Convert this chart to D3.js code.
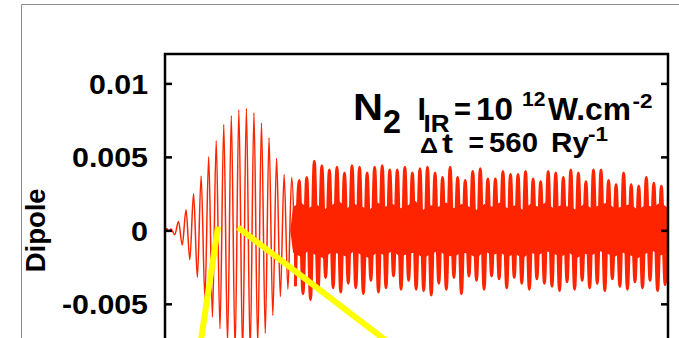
<!DOCTYPE html>
<html>
<head>
<meta charset="utf-8">
<script src="https://cdn.jsdelivr.net/npm/d3@7"></script>
<style>
  html, body { margin: 0; padding: 0; background: #ffffff; }
  svg { display: block; }
  text { font-family: "Liberation Sans", Arial, Helvetica, sans-serif; font-weight: bold; fill: #000; }
</style>
</head>
<body>
<svg id="chart" width="679" height="338"></svg>
<script>
// ---- data -------------------------------------------------------------
// time in Ry^-1, dipole in atomic units
const timeDomain = [0, 2200];
const dipoleDomain = [-0.012, 0.012];
const yTickValues = [-0.005, 0, 0.005, 0.01];
const yTickLabels = ["-0.005", "0", "0.005", "0.01"];

// quiet start of the record
const leadTimes = [0, 8, 16];
const leadValues = [0, 0.00012, -0.00008];

// turning points of the dipole oscillation: first one at t = 26, one every half period
const firstTurnTime = 26;
const halfPeriod = 16.5;

// XUV-driven oscillation before the IR arrives (alternating max / min)
const preValues = [
  0.0001, -0.0003, 0.0006, -0.0010, 0.0014, -0.0020, 0.0025, -0.0032, 0.0037, -0.0046,
  0.0050, -0.0059, 0.0061, -0.0067, 0.0072, -0.0077, 0.0078, -0.0082, 0.0082, -0.0084,
  0.0083, -0.0083, 0.0080, -0.0078, 0.0073, -0.0070, 0.0063, -0.0058, 0.0049, -0.0045,
  0.0038, -0.0040, 0.0036, -0.0038
];

// after the IR pulse: maxima and minima of the spikes
const denseUpper = [
  0.0034, 0.0036, 0.0047, 0.0044, 0.0041, 0.0043, 0.0039, 0.0044, 0.0043, 0.0039,
  0.0043, 0.0044, 0.0041, 0.0041, 0.0043, 0.0039, 0.0042, 0.0043, 0.0039, 0.0036,
  0.0043, 0.0036, 0.0034, 0.0040, 0.0042, 0.0035, 0.0035, 0.0040, 0.0038, 0.0038,
  0.0040, 0.0035, 0.0033, 0.0040, 0.0039, 0.0036, 0.0041, 0.0039, 0.0033, 0.0041,
  0.0041, 0.0034, 0.0031, 0.0039, 0.0031, 0.0030, 0.0036, 0.0032, 0.0030, 0.0036
];
const denseLower = [
  -0.0043, -0.0047, -0.0041, -0.0032, -0.0039, -0.0042, -0.0036, -0.0039, -0.0043, -0.0034,
  -0.0042, -0.0039, -0.0031, -0.0040, -0.0034, -0.0040, -0.0041, -0.0044, -0.0036, -0.0040,
  -0.0032, -0.0043, -0.0031, -0.0034, -0.0040, -0.0031, -0.0033, -0.0039, -0.0032, -0.0036,
  -0.0040, -0.0033, -0.0036, -0.0038, -0.0041, -0.0035, -0.0040, -0.0034, -0.0039, -0.0036,
  -0.0041, -0.0033, -0.0038, -0.0040, -0.0035, -0.0039, -0.0034, -0.0041, -0.0037
];

// fast component after the IR pulse: ragged envelope of the solid core
const coreStart = 560;
const coreStep = 33.5;
const coreUpper = [
  0.0016, 0.0019, 0.0015, 0.0018, 0.0014, 0.0017, 0.0020, 0.0015, 0.0018, 0.0016,
  0.0014, 0.0019, 0.0016, 0.0018, 0.0015, 0.0017, 0.0020, 0.0014, 0.0017, 0.0016,
  0.0019, 0.0015, 0.0018, 0.0016, 0.0014, 0.0018, 0.0016, 0.0019, 0.0015, 0.0017,
  0.0014, 0.0018, 0.0016, 0.0019, 0.0015, 0.0017, 0.0016, 0.0014, 0.0018, 0.0015,
  0.0017, 0.0019, 0.0015, 0.0016, 0.0018, 0.0014, 0.0017, 0.0016, 0.0019, 0.0015
];
const coreLower = [
  -0.0015, -0.0018, -0.0014, -0.0017, -0.0019, -0.0015, -0.0016, -0.0018, -0.0014, -0.0017,
  -0.0019, -0.0015, -0.0017, -0.0014, -0.0018, -0.0016, -0.0015, -0.0019, -0.0016, -0.0014,
  -0.0017, -0.0018, -0.0015, -0.0016, -0.0019, -0.0014, -0.0017, -0.0015, -0.0018, -0.0016,
  -0.0019, -0.0015, -0.0017, -0.0014, -0.0016, -0.0018, -0.0015, -0.0019, -0.0016, -0.0017,
  -0.0014, -0.0016, -0.0018, -0.0015, -0.0017, -0.0019, -0.0016, -0.0014, -0.0017, -0.0016
];

// guide lines towards the enlarged view (time, dipole)
const guideA = [[232, 0.00025], [105, -0.0129]];
const guideB = [[319, 0.0002], [1421, -0.0129]];

// ---- build the series ---------------------------------------------------
const lead = leadTimes.map((t, i) => ({ t, v: leadValues[i] }));
const preTrace = lead.concat(preValues.map((v, k) => ({ t: firstTurnTime + k * halfPeriod, v })));

const denseValues = [];
for (let i = 0; i < denseUpper.length; i++) {
  denseValues.push(denseUpper[i]);
  if (i < denseLower.length) denseValues.push(denseLower[i]);
}
const denseFirst = firstTurnTime + (preValues.length - 1) * halfPeriod;
const denseTrace = [preTrace[preTrace.length - 1]].concat(
  denseValues.map((v, k) => ({ t: denseFirst + (k + 1) * halfPeriod, v })));

const core = [{ t: coreStart - 12, hi: 0, lo: 0 }].concat(
  coreUpper.map((hi, i) => ({ t: coreStart + i * coreStep, hi, lo: coreLower[i] })));

// ---- layout --------------------------------------------------------------
const svg = d3.select("#chart");
const plot = { left: 165, right: 668, top: 54, bottom: 406.7 };
const red = "#ff2400";
// rendered widths of the (slightly wide) bold lettering
const tickLabelWidth = { "0.01": 59, "0.005": 76, "0": 17, "-0.005": 86 };

const x = d3.scaleLinear().domain(timeDomain).range([plot.left, plot.right]);
const y = d3.scaleLinear().domain(dipoleDomain).range([plot.bottom, plot.top]);

// outer page frame
svg.append("line").attr("x1", 21.5).attr("x2", 21.5).attr("y1", 4.5).attr("y2", 338)
  .attr("stroke", "#8c8c8c").attr("stroke-width", 1);
svg.append("line").attr("x1", 21.5).attr("x2", 679).attr("y1", 4.5).attr("y2", 4.5)
  .attr("stroke", "#8c8c8c").attr("stroke-width", 1);

svg.append("defs").append("clipPath").attr("id", "plotClip")
  .append("rect").attr("x", plot.left).attr("y", plot.top)
  .attr("width", plot.right - plot.left).attr("height", plot.bottom - plot.top);

const g = svg.append("g").attr("clip-path", "url(#plotClip)");

// solid core of the fast oscillation
g.append("path").datum(core)
  .attr("fill", red)
  .attr("d", d3.area().x(d => x(d.t)).y0(d => y(d.lo)).y1(d => y(d.hi)));

const line = d3.line().x(d => x(d.t)).y(d => y(d.v)).curve(d3.curveMonotoneX);

// dipole trace before the IR pulse
g.append("path").datum(preTrace)
  .attr("fill", "none").attr("stroke", red).attr("stroke-width", 1.5)
  .attr("stroke-linejoin", "round")
  .attr("d", line);

// dipole trace after the IR pulse (spikes broadened by the fast component)
g.append("path").datum(denseTrace)
  .attr("fill", "none").attr("stroke", red).attr("stroke-width", 3)
  .attr("stroke-linejoin", "round")
  .attr("d", line);

// axes with inward ticks
const fmt = d => yTickLabels[yTickValues.indexOf(d)];
const leftAxis = svg.append("g").attr("transform", `translate(${plot.left},0)`)
  .call(d3.axisLeft(y).tickValues(yTickValues).tickFormat(fmt).tickSize(-7).tickPadding(17));
const rightAxis = svg.append("g").attr("transform", `translate(${plot.right},0)`)
  .call(d3.axisRight(y).tickValues(yTickValues).tickFormat("").tickSize(-7));
[leftAxis, rightAxis].forEach(a => {
  a.select(".domain").remove();
  a.selectAll(".tick line").attr("stroke", "#000").attr("stroke-width", 2.5);
});
leftAxis.selectAll(".tick text")
  .attr("font-size", 28).attr("font-family", "Liberation Sans, Arial, sans-serif")
  .attr("font-weight", "bold").attr("fill", "#000").attr("dy", "0.36em")
  .attr("textLength", d => tickLabelWidth[fmt(d)])
  .attr("lengthAdjust", "spacingAndGlyphs");

// plot frame
svg.append("rect")
  .attr("x", plot.left).attr("y", plot.top)
  .attr("width", plot.right - plot.left).attr("height", plot.bottom - plot.top)
  .attr("fill", "none").attr("stroke", "#000").attr("stroke-width", 2.5);

// axis title
svg.append("text")
  .attr("transform", `translate(44.7,${y(0)}) rotate(-90)`)
  .attr("text-anchor", "middle").attr("font-size", 27)
  .attr("textLength", 84).attr("lengthAdjust", "spacingAndGlyphs")
  .text("Dipole");

// guide lines
[guideA, guideB].forEach(gd => {
  svg.append("line")
    .attr("x1", x(gd[0][0])).attr("y1", y(gd[0][1]))
    .attr("x2", x(gd[1][0])).attr("y2", y(gd[1][1]))
    .attr("stroke", "#ffff00").attr("stroke-width", 6);
});

// annotation: molecule, IR intensity and delay
// each piece: text, left x, baseline, font size, rendered width
const notePieces = [
  ["N", 353, 120, 37, 30],
  ["2", 383, 133, 34, 18],
  ["I", 417.5, 120, 31, 8.5],
  ["IR", 423.5, 132, 23, 26],
  ["=", 454, 120, 31, 17],
  ["10", 476, 120, 31, 37],
  ["12", 522, 106, 21, 23.5],
  ["W.cm", 548, 120, 31, 83],
  ["-2", 632.5, 108, 21, 20],
  ["\u0394", 420, 153, 22, 18],
  ["t", 442, 153, 28, 11],
  ["=", 468.5, 152, 28, 15.5],
  ["560", 489, 152, 28, 49],
  ["Ry", 551, 152, 28, 38],
  ["-1", 588, 141, 21, 20]
];
svg.append("g").selectAll("text").data(notePieces).join("text")
  .attr("x", d => d[0] === "" ? 0 : d[1]).attr("y", d => d[2])
  .attr("font-size", d => d[3])
  .attr("textLength", d => d[4]).attr("lengthAdjust", "spacingAndGlyphs")
  .text(d => d[0]);
</script>
</body>
</html>
